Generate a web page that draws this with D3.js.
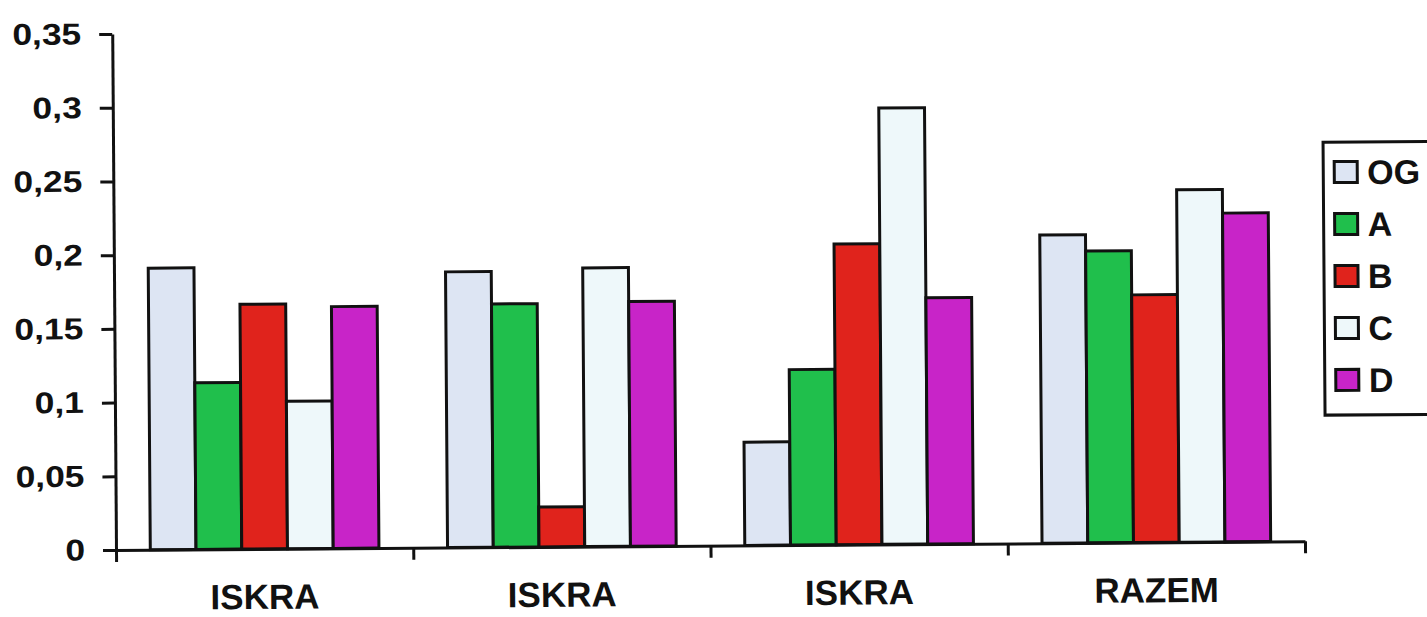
<!DOCTYPE html>
<html>
<head>
<meta charset="utf-8">
<script src="https://cdn.jsdelivr.net/npm/d3@7"></script>
<style>
  html, body { margin: 0; padding: 0; background: #ffffff; }
  svg { display: block; }
  text { font-family: "Liberation Sans", Arial, Helvetica, sans-serif; font-weight: bold; fill: #111; }
</style>
</head>
<body>
<svg id="chart" width="1427" height="617"></svg>
<script>
// Categories along the x axis
const categories = ["ISKRA", "ISKRA", "ISKRA", "RAZEM"];

// Series names (legend order) and their values per category
const seriesNames = ["OG", "A", "B", "C", "D"];
const valuesOG = [0.191, 0.187, 0.070, 0.209];
const valuesA  = [0.113, 0.165, 0.119, 0.198];
const valuesB  = [0.166, 0.027, 0.204, 0.168];
const valuesC  = [0.100, 0.189, 0.296, 0.239];
const valuesD  = [0.164, 0.166, 0.167, 0.223];

// Y axis tick values
const yTicks = [0, 0.05, 0.1, 0.15, 0.2, 0.25, 0.3, 0.35];

// Fill colours per series
const seriesColors = ["#dde5f3", "#20bf4c", "#e0231c", "#eef8fa", "#c824c8"];

const seriesValues = [valuesOG, valuesA, valuesB, valuesC, valuesD];

const svg = d3.select("#chart");
const plot = { left: 116, right: 1305, top: 34, bottom: 550 };
const tilt = -0.42;
const ink = "#111";
const lineW = 3;

const root = svg.append("g")
  .attr("transform", `rotate(${tilt}, ${plot.left}, ${plot.bottom})`);

// Scales
const y = d3.scaleLinear().domain([0, 0.35]).range([plot.bottom, plot.top]);
const x0 = d3.scaleBand()
  .domain(d3.range(categories.length))
  .range([plot.left, plot.right])
  .paddingInner(0).paddingOuter(0);
const x1 = d3.scaleBand()
  .domain(seriesNames)
  .range([0, x0.bandwidth()])
  .paddingInner(0).paddingOuter(0.75);
const color = d3.scaleOrdinal().domain(seriesNames).range(seriesColors);

// Bars
const groups = root.append("g").selectAll("g")
  .data(categories.map((c, i) => ({ i, c })))
  .join("g")
  .attr("transform", d => `translate(${x0(d.i)},0)`);

groups.selectAll("rect")
  .data(d => seriesNames.map((s, k) => ({ s, v: seriesValues[k][d.i] })))
  .join("rect")
  .attr("x", d => x1(d.s))
  .attr("y", d => y(d.v))
  .attr("width", x1.bandwidth())
  .attr("height", d => y(0) - y(d.v))
  .attr("fill", d => color(d.s))
  .attr("stroke", ink)
  .attr("stroke-width", lineW);

// Y axis with comma decimal separator
const locale = d3.formatLocale({ decimal: ",", thousands: ".", grouping: [3], currency: ["", ""] });
const fmt = locale.format("~g");

const yAxis = root.append("g")
  .attr("transform", `translate(${plot.left},0)`)
  .call(d3.axisLeft(y).tickValues(yTicks).tickFormat(fmt).tickSize(13).tickSizeOuter(0).tickPadding(18));
yAxis.select(".domain").attr("stroke", ink).attr("stroke-width", lineW);
yAxis.selectAll(".tick line").attr("stroke", ink).attr("stroke-width", lineW);
yAxis.selectAll(".tick text")
  .style("font-size", "30px")
  .style("font-family", "'Liberation Sans', Arial, sans-serif")
  .style("font-weight", "bold")
  .attr("fill", ink)
  .each(function () {
    const w = this.getComputedTextLength();
    d3.select(this).attr("textLength", w * 1.18).attr("lengthAdjust", "spacingAndGlyphs");
  });

// X axis: line with tick marks at category boundaries
const xEdge = d3.scaleLinear().domain([0, categories.length]).range([plot.left, plot.right]);
const xAxis = root.append("g")
  .attr("transform", `translate(0,${plot.bottom})`)
  .call(d3.axisBottom(xEdge).tickValues(d3.range(categories.length + 1)).tickFormat("").tickSize(12).tickSizeOuter(0));
xAxis.select(".domain").attr("stroke", ink).attr("stroke-width", lineW);
xAxis.selectAll(".tick line").attr("stroke", ink).attr("stroke-width", lineW);

// Category labels
root.append("g").selectAll("text")
  .data(categories.map((c, i) => ({ c, i })))
  .join("text")
  .attr("x", d => x0(d.i) + x0.bandwidth() / 2)
  .attr("y", plot.bottom + 60)
  .attr("text-anchor", "middle")
  .style("font-size", "35px")
  .text(d => d.c);

// Legend
const legendBox = { x: 1326, y: 151, w: 160, h: 273 };
const legend = root.append("g");
legend.append("rect")
  .attr("x", legendBox.x).attr("y", legendBox.y)
  .attr("width", legendBox.w).attr("height", legendBox.h)
  .attr("fill", "#fff").attr("stroke", ink).attr("stroke-width", lineW);

const items = legend.selectAll("g.item")
  .data(seriesNames)
  .join("g")
  .attr("class", "item")
  .attr("transform", (d, i) => `translate(${legendBox.x + 11},${legendBox.y + 30 + i * 52})`);
items.append("rect")
  .attr("x", 0).attr("y", -10.5)
  .attr("width", 23).attr("height", 21)
  .attr("fill", d => color(d))
  .attr("stroke", ink).attr("stroke-width", lineW);
items.append("text")
  .attr("x", 33).attr("y", 0).attr("dy", "0.36em")
  .style("font-size", "34px")
  .text(d => d);
</script>
</body>
</html>
